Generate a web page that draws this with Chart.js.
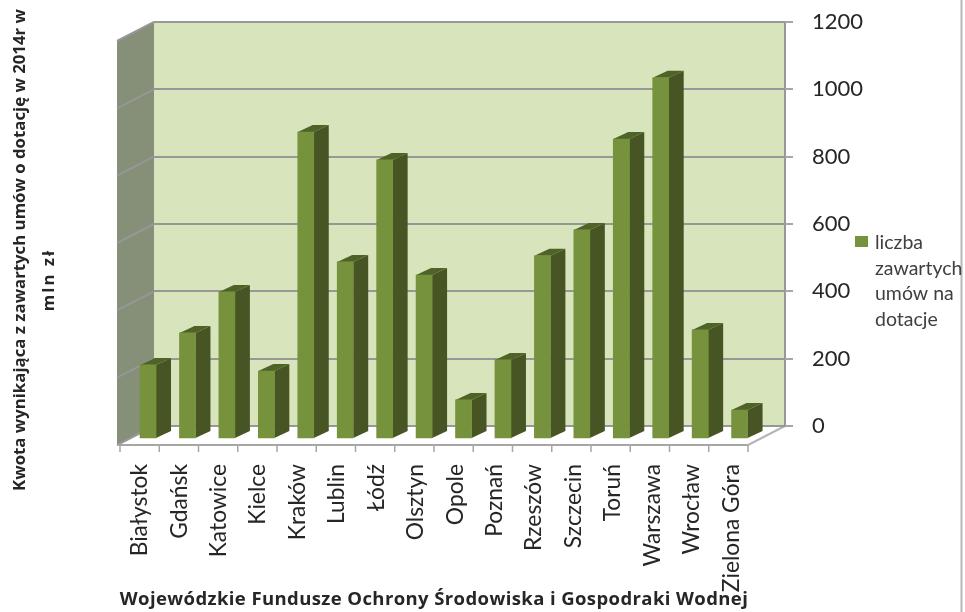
<!DOCTYPE html>
<html lang="pl">
<head>
  <meta charset="UTF-8"/>
  <title>Umowy o dotację</title>
  <script src="https://cdn.jsdelivr.net/npm/chart.js"></script>
  <style>
    html, body { margin: 0; padding: 0; background: #fff; }
    canvas { display: block; }
  </style>
</head>
<body>
  <canvas id="chart" width="965" height="612"></canvas>
  <script>
    const categories = ['Białystok', 'Gdańsk', 'Katowice', 'Kielce', 'Kraków', 'Lublin', 'Łódź', 'Olsztyn',
      'Opole', 'Poznań', 'Rzeszów', 'Szczecin', 'Toruń', 'Warszawa', 'Wrocław', 'Zielona Góra'];
    const values = [220, 315, 437, 202, 912, 526, 829, 487, 116, 235, 544, 621, 891, 1073, 324, 86];
    const seriesLabel = 'liczba zawartych umów na dotacje';
    const legendLines = ['liczba', 'zawartych', 'umów na', 'dotacje'];
    const yTitleLines = ['Kwota wynikająca z zawartych umów o dotację w 2014r w', 'mln zł'];
    const xTitle = 'Wojewódzkie Fundusze Ochrony Środowiska i Gospodraki Wodnej';

    const FONT = 'Lato, sans-serif';
    const TITLE_FONT = '"Open Sans", sans-serif';
    const GRID = '#979797';

    // the "3D" look: back wall is the chart area, the floor comes forward by this much
    const depthX = -37, depthY = 19;
    // bars stand part of the way forward on the floor
    const barX = -25.7, barY = 13, sideX = 15, sideY = -7;

    function poly(ctx, pts, fill) {
      ctx.beginPath();
      pts.forEach(([x, y], i) => i ? ctx.lineTo(x, y) : ctx.moveTo(x, y));
      ctx.closePath();
      ctx.fillStyle = fill;
      ctx.fill();
    }

    function line(ctx, x1, y1, x2, y2, color, width) {
      ctx.beginPath();
      ctx.moveTo(x1, y1);
      ctx.lineTo(x2, y2);
      ctx.strokeStyle = color;
      ctx.lineWidth = width;
      ctx.stroke();
    }

    const wallsPlugin = {
      id: 'walls',
      beforeDraw(chart) {
        const { ctx, chartArea: a, scales } = chart;
        ctx.save();
        poly(ctx, [[a.left, a.top], [a.right, a.top], [a.right, a.bottom], [a.left, a.bottom]], '#d7e4bc');
        poly(ctx, [[a.left, a.top], [a.left + depthX, a.top + depthY], [a.left + depthX, a.bottom + depthY], [a.left, a.bottom]], '#868f78');

        // gridlines carried over the side wall
        scales.y.ticks.forEach(t => {
          const y = scales.y.getPixelForValue(t.value);
          line(ctx, a.left, y, a.left + depthX, y + depthY, GRID, 2);
        });

        line(ctx, a.right, a.top, a.right, a.bottom, GRID, 2);
        line(ctx, a.left + depthX, a.bottom + depthY, a.right + depthX, a.bottom + depthY, '#a6a6a6', 2);
        line(ctx, a.right + depthX, a.bottom + depthY, a.right, a.bottom, '#b5b5b5', 2);

        // category ticks on the front edge of the floor
        const x0 = a.left - 34, x1 = a.right + depthX;
        for (let i = 0; i <= categories.length; i++) {
          const x = x0 + (x1 - x0) * i / categories.length;
          line(ctx, x, a.bottom + depthY, x, a.bottom + depthY + 7, '#a6a6a6', 1.5);
        }

        // frame line on the right of the picture
        line(ctx, 961.5, 0, 961.5, 612, '#b8b8b8', 2);
        ctx.restore();
      }
    };

    const barsPlugin = {
      id: 'bars3d',
      beforeDatasetsDraw(chart) {
        const { ctx } = chart;
        ctx.save();
        ctx.translate(barX, barY);
        chart.getDatasetMeta(0).data.forEach(bar => {
          const l = bar.x - bar.width / 2, r = bar.x + bar.width / 2, t = bar.y, b = bar.base;
          poly(ctx, [[r, t], [r + sideX, t + sideY], [r + sideX, b + sideY], [r, b]], '#465523');
          poly(ctx, [[l, t], [l + sideX, t + sideY], [r + sideX, t + sideY], [r, t]], '#4f6228');
        });
      },
      afterDatasetsDraw(chart) {
        chart.ctx.restore();
      }
    };

    const textPlugin = {
      id: 'texts',
      afterDraw(chart) {
        const { ctx } = chart;
        ctx.save();
        ctx.fillStyle = '#262626';
        ctx.textBaseline = 'middle';
        ctx.textAlign = 'center';

        // titles
        ctx.font = 'bold 18.5px ' + TITLE_FONT;
        ctx.letterSpacing = '0.4px';
        ctx.fillText(xTitle, 434, 600);
        ctx.letterSpacing = '0px';
        ctx.font = 'bold 16.8px ' + TITLE_FONT;
        ctx.save();
        ctx.translate(20, 250);
        ctx.rotate(-Math.PI / 2);
        ctx.fillText(yTitleLines[0], 0, 0);
        ctx.restore();
        ctx.save();
        ctx.translate(49, 280);
        ctx.rotate(-Math.PI / 2);
        ctx.letterSpacing = '2px';
        ctx.fillText(yTitleLines[1], 0, 0);
        ctx.letterSpacing = '0px';
        ctx.restore();

        // legend
        ctx.fillStyle = '#76923c';
        ctx.fillRect(855, 236, 13, 11);
        ctx.fillStyle = '#404040';
        ctx.textAlign = 'left';
        ctx.font = '19.5px ' + FONT;
        legendLines.forEach((s, i) => ctx.fillText(s, 875, 243 + i * 25.5));
        ctx.restore();
      }
    };

    new Chart(document.getElementById('chart'), {
      type: 'bar',
      data: {
        labels: categories,
        datasets: [{
          label: seriesLabel,
          data: values,
          backgroundColor: '#76923c',
          barThickness: 16
        }]
      },
      plugins: [wallsPlugin, barsPlugin, textPlugin],
      options: {
        responsive: false,
        animation: false,
        layout: { padding: { left: 154, top: 22, right: 0, bottom: 0 } },
        plugins: { legend: { display: false }, tooltip: { enabled: false } },
        scales: {
          x: {
            grid: { display: false },
            border: { display: false },
            afterFit(scale) { scale.height = 186; },
            ticks: {
              autoSkip: false,
              minRotation: 90,
              maxRotation: 90,
              padding: 30,
              labelOffset: -34,
              color: '#262626',
              font: { family: FONT, size: 22.8 }
            }
          },
          y: {
            position: 'right',
            min: 0,
            max: 1200,
            grid: { color: GRID, lineWidth: 2, tickLength: 8, tickColor: '#a6a6a6' },
            border: { display: false },
            afterFit(scale) {
              scale.width = 180;
              scale.paddingTop = 0;
              scale.paddingBottom = 0;
            },
            ticks: {
              stepSize: 200,
              padding: 19,
              color: '#262626',
              font: { family: FONT, size: 22 },
              callback: v => String(v)
            }
          }
        }
      }
    });
  </script>
</body>
</html>
